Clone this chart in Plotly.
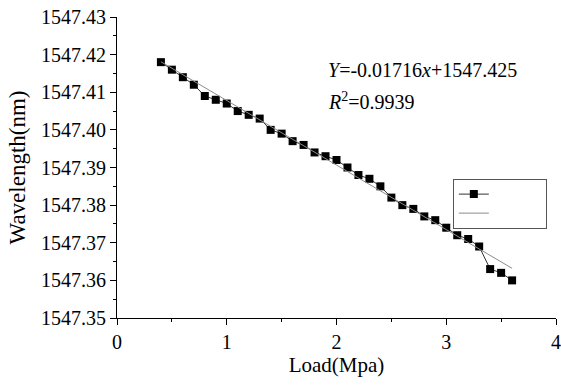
import plotly.graph_objects as go

load = [0.4, 0.5, 0.6, 0.7, 0.8, 0.9, 1.0, 1.1, 1.2, 1.3, 1.4, 1.5, 1.6, 1.7, 1.8, 1.9, 2.0,
        2.1, 2.2, 2.3, 2.4, 2.5, 2.6, 2.7, 2.8, 2.9, 3.0, 3.1, 3.2, 3.3, 3.4, 3.5, 3.6]
wavelength = [1547.418, 1547.416, 1547.414, 1547.412, 1547.409, 1547.408, 1547.407, 1547.405,
              1547.404, 1547.403, 1547.400, 1547.399, 1547.397, 1547.396, 1547.394, 1547.393,
              1547.392, 1547.390, 1547.388, 1547.387, 1547.385, 1547.382, 1547.380, 1547.379,
              1547.377, 1547.376, 1547.374, 1547.372, 1547.371, 1547.369, 1547.363, 1547.362,
              1547.360]
fit_x = [0.4, 3.6]
fit_y = [1547.4181, 1547.3632]
y_ticks = [1547.35, 1547.36, 1547.37, 1547.38, 1547.39, 1547.40, 1547.41, 1547.42, 1547.43]
x_ticks = [0, 1, 2, 3, 4]

FONT = "Liberation Serif, Times New Roman, serif"

fig = go.Figure()
fig.add_trace(go.Scatter(
    x=load, y=wavelength, mode="lines+markers", name="\u00a0" * 17,
    line=dict(color="#333333", width=1),
    marker=dict(symbol="square", size=8, color="black"),
))
fig.add_trace(go.Scatter(
    x=fit_x, y=fit_y, mode="lines", name="\u00a0" * 17,
    line=dict(color="#8c8c8c", width=1),
))

fig.add_annotation(
    x=0, y=0.824, xref="paper", yref="paper", xanchor="left", yanchor="middle",
    xshift=209, showarrow=False,
    text="<i>Y</i>=-0.01716<i>x</i>+1547.425",
    font=dict(family=FONT, size=20, color="black"),
)
fig.add_annotation(
    x=0, y=0.721, xref="paper", yref="paper", xanchor="left", yanchor="middle",
    xshift=209, showarrow=False,
    text="<i>R</i><sup>2</sup>=0.9939",
    font=dict(family=FONT, size=20, color="black"),
)

axis_common = dict(
    showline=True, linecolor="black", linewidth=1, showgrid=False, zeroline=False,
    ticks="outside", ticklen=6, tickwidth=1, tickcolor="black", mirror=False,
    tickfont=dict(family=FONT, size=20, color="black"), automargin=False,
)

fig.update_layout(
    width=561, height=385,
    margin=dict(l=117, r=5, t=17, b=67),
    paper_bgcolor="white", plot_bgcolor="white",
    showlegend=True,
    legend=dict(x=0.765, y=0.38, xanchor="left", yanchor="middle",
                bordercolor="#555555", borderwidth=1, bgcolor="white",
                font=dict(family=FONT, size=11), tracegroupgap=0),
    xaxis=dict(range=[0, 4], tickvals=x_ticks,
               minor=dict(ticks="outside", ticklen=3, dtick=0.5, tickcolor="black"),
               title=dict(text="Load(Mpa)", font=dict(family=FONT, size=21, color="black"), standoff=1),
               **axis_common),
    yaxis=dict(range=[1547.35, 1547.43], tickvals=y_ticks, tickformat=".2f",
               minor=dict(ticks="outside", ticklen=3, dtick=0.005, tickcolor="black"),
               title=dict(text="Wavelength(nm)", font=dict(family=FONT, size=23, color="black"), standoff=8),
               **axis_common),
)

fig.write_html("out.html", config={"displayModeBar": False},
               post_script="document.body.style.margin='0px';")
